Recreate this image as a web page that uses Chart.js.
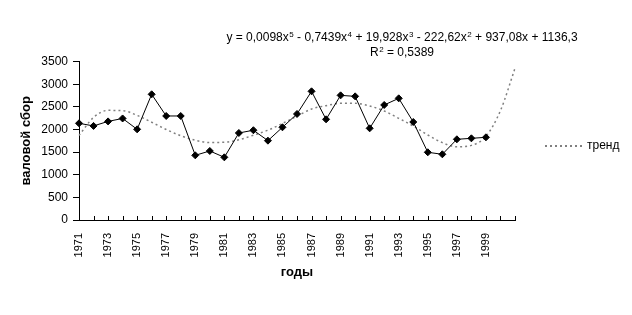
<!DOCTYPE html>
<html>
<head>
<meta charset="utf-8">
<script src="https://cdn.jsdelivr.net/npm/chart.js@4.4.1/dist/chart.umd.min.js"></script>
<style>
  html, body { margin: 0; padding: 0; background: #fff; }
  #wrap { position: relative; width: 632px; height: 315px; overflow: hidden; font-family: "Liberation Sans", Arial, sans-serif; }
  #c { position: absolute; left: 0; top: 0; }
  #eq { position: absolute; left: 202px; width: 400px; top: 29.5px; font-size: 12px; line-height: 15px; text-align: center; white-space: nowrap; color: #000; }
  #eq sup { font-size: 8px; line-height: 0; vertical-align: 4px; margin-left: 0.5px; }
  #legend { position: absolute; left: 545px; top: 137px; font-size: 12px; line-height: 16px; white-space: nowrap; color: #000; }
  #legend .ln { display: inline-block; width: 38px; height: 2px; vertical-align: middle; margin-right: 4px;
    background: repeating-linear-gradient(to right, #808080 0 2px, transparent 2px 5px); }
</style>
</head>
<body>
<div id="wrap">
  <canvas id="c" width="632" height="315"></canvas>
  <div id="eq">y = 0,0098x<sup>5</sup> - 0,7439x<sup>4</sup> + 19,928x<sup>3</sup> - 222,62x<sup>2</sup> + 937,08x + 1136,3<br>R<sup>2</sup> = 0,5389</div>
  <div id="legend"><span class="ln"></span>тренд</div>
</div>
<script>
// Categories (years); the axis extends two periods past the data for the trend forecast
const years = [1971,1972,1973,1974,1975,1976,1977,1978,1979,1980,1981,1982,1983,1984,1985,
               1986,1987,1988,1989,1990,1991,1992,1993,1994,1995,1996,1997,1998,1999,2000,2001];
// Tick labels shown on the x axis
const tickLabels = ['1971','1973','1975','1977','1979','1981','1983','1985','1987','1989',
                    '1991','1993','1995','1997','1999'];
// Gross harvest (валовой сбор)
const harvest = [2138,2080,2180,2245,2005,2779,2300,2300,1430,1526,1386,1924,1985,1754,2050,
                 2344,2845,2226,2756,2734,2027,2543,2690,2167,1497,1453,1784,1806,1828,null,null];
// Polynomial trend (тренд)
const trend = [1870,2268,2424,2418,2313,2161,2001,1863,1763,1714,1718,1773,1874,1985,2135,
               2295,2455,2528,2580,2580,2520,2410,2248,2078,1879,1710,1620,1650,1850,2420,3354];
const yTicks = [0,500,1000,1500,2000,2500,3000,3500];

const FONT = '"Liberation Sans", Arial, sans-serif';

const innerTicks = {
  id: 'innerTicks',
  afterDatasetsDraw(chart) {
    const x = chart.scales.x, ctx = chart.ctx, b = chart.chartArea.bottom;
    ctx.save();
    ctx.strokeStyle = '#000';
    ctx.lineWidth = 1;
    ctx.beginPath();
    for (let i = 0; i < years.length; i++) {
      const px = Math.round(x.getPixelForValue(i)) + 0.5;
      ctx.moveTo(px, b);
      ctx.lineTo(px, b - 4);
    }
    ctx.stroke();
    ctx.restore();
  }
};

new Chart(document.getElementById('c'), {
  type: 'line',
  data: {
    labels: years.map(String),
    datasets: [
      {
        label: 'валовой сбор',
        data: harvest,
        borderColor: '#000',
        backgroundColor: '#000',
        borderWidth: 1,
        pointStyle: 'rectRot',
        pointRadius: 3.5,
        pointBorderWidth: 1,
        pointBackgroundColor: '#000',
        pointBorderColor: '#000',
        tension: 0,
        spanGaps: false
      },
      {
        label: 'тренд',
        data: trend,
        borderColor: '#808080',
        borderWidth: 1.5,
        borderDash: [2, 3],
        pointRadius: 0,
        cubicInterpolationMode: 'monotone',
        fill: false
      }
    ]
  },
  options: {
    responsive: false,
    animation: false,
    devicePixelRatio: 1,
    layout: { padding: { left: 0, top: 61.7, right: 117, bottom: 0 } },
    plugins: {
      legend: { display: false },
      tooltip: { enabled: false },
      title: { display: false }
    },
    scales: {
      x: {
        type: 'category',
        offset: false,
        afterFit(s) { s.height = 95; },
        grid: { display: true, drawOnChartArea: false, drawTicks: false },
        border: { display: true, color: '#000', width: 1 },
        ticks: {
          autoSkip: false,
          maxRotation: 90,
          minRotation: 90,
          padding: 13,
          color: '#000',
          font: { family: FONT, size: 11 },
          callback(v, i) { const l = String(years[i]); return tickLabels.includes(l) ? l : ''; }
        },
        title: {
          display: true,
          text: 'годы',
          color: '#000',
          font: { family: FONT, size: 13, weight: 'bold' },
          padding: { top: 0, bottom: 34.7 }
        }
      },
      y: {
        min: 0,
        max: 3500,
        afterFit(s) { s.width = 79; },
        afterBuildTicks(s) { s.ticks = yTicks.map(v => ({ value: v })); },
        grid: { display: true, drawOnChartArea: false, drawTicks: true, tickLength: 6, color: '#000' },
        border: { display: true, color: '#000', width: 1 },
        ticks: {
          padding: 5,
          color: '#000',
          font: { family: FONT, size: 12 },
          callback(v) { return String(v); }
        },
        title: {
          display: true,
          text: 'валовой сбор',
          color: '#000',
          font: { family: FONT, size: 13, weight: 'bold' },
          padding: { top: 18.9, bottom: 0 }
        }
      }
    }
  },
  plugins: [innerTicks]
});
</script>
</body>
</html>
